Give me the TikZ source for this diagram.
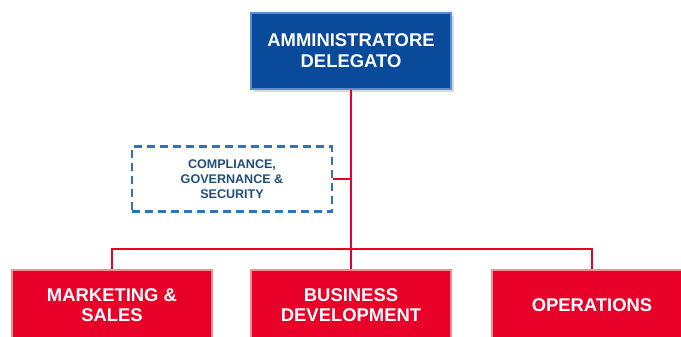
\documentclass[tikz,border=0pt]{standalone}
\usepackage{fontspec}
\setmainfont{Liberation Sans}
\begin{document}
\definecolor{ceoblue}{RGB}{10,74,154}
\definecolor{ceoedge}{RGB}{92,142,214}
\definecolor{unitred}{RGB}{232,0,40}
\definecolor{unitedge}{RGB}{244,140,150}
\definecolor{staffblue}{RGB}{46,117,182}
\definecolor{stafftext}{RGB}{31,78,121}
\begin{tikzpicture}[x=1bp,y=-1bp,
  every node/.style={font=\bfseries, align=center, inner sep=0pt},
  ceobox/.style={fill=ceoblue, draw=ceoedge, line width=2bp, text=white,
    minimum width=200bp, minimum height=76bp,
    font=\fontsize{18.5}{21}\selectfont\bfseries},
  unitbox/.style={fill=unitred, draw=unitedge, line width=2bp, text=white,
    minimum width=200bp, minimum height=70bp,
    font=\fontsize{18.5}{20.5}\selectfont\bfseries},
  staffbox/.style={draw=staffblue, dash pattern=on 8bp off 5bp, line width=2.2bp,
    text=stafftext, minimum width=200bp, minimum height=65bp,
    font=\fontsize{12.6}{15}\selectfont\bfseries},
  link/.style={draw=unitred, line width=1.8bp}]
\useasboundingbox (0,0) rectangle (681,336);
\clip (0,0) rectangle (681,336);

% shadow under the top box
\fill[black!15] (254,16) rectangle (454,92);
\node[ceobox] (ceo) at (351,51) {AMMINISTRATORE\\DELEGATO};

\node[staffbox] (staff) at (232,179) {COMPLIANCE,\\GOVERNANCE \&\\SECURITY};

\node[unitbox] (mkt) at (112,305) {MARKETING \&\\SALES};
\node[unitbox] (bd)  at (351,305) {BUSINESS\\DEVELOPMENT};
\node[unitbox] (ops) at (592,305) {OPERATIONS};

\coordinate (bus) at (351,249);
\coordinate (tap) at (351,179);

% reporting lines
\draw[link] (ceo.south) -- (bus);
\draw[link] (staff.east) -- (tap);
\draw[link] (mkt.north) |- (bus) -| (ops.north);
\draw[link] (bus) -- (bd.north);
\end{tikzpicture}
\end{document}
